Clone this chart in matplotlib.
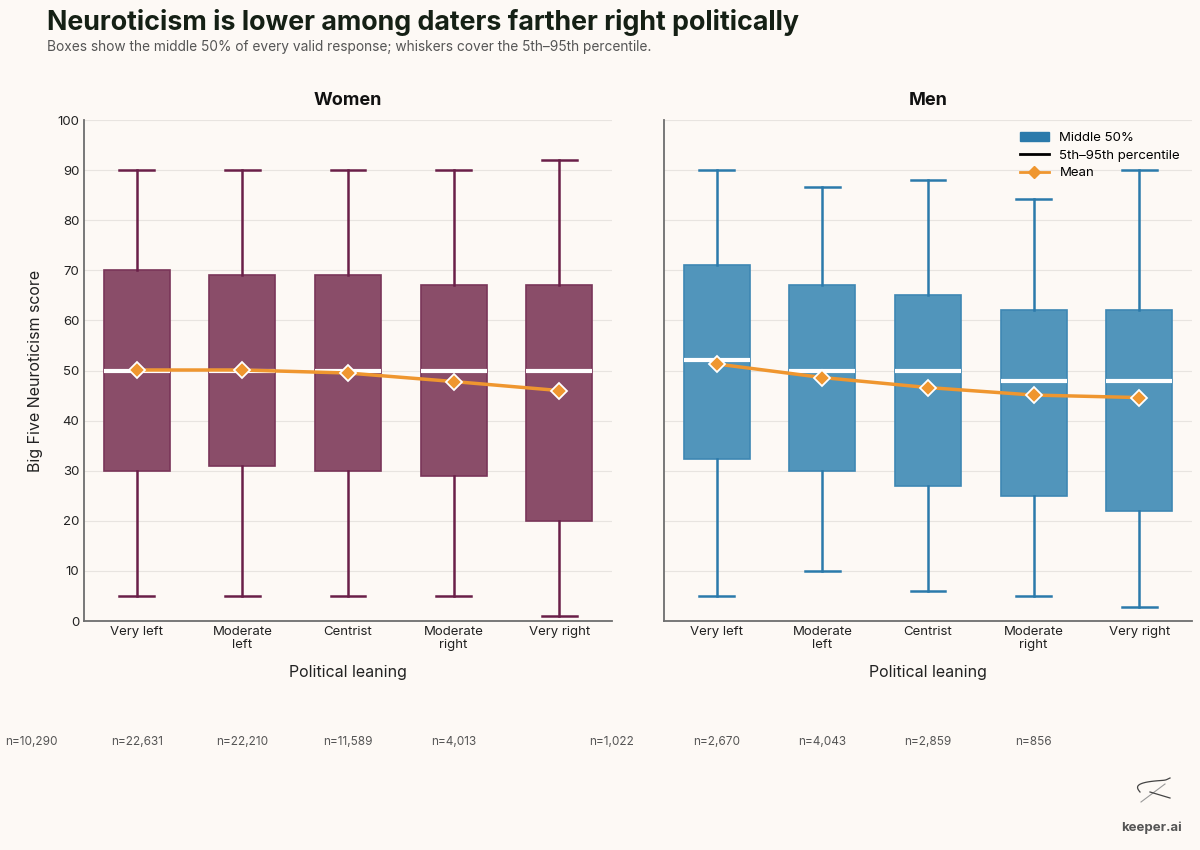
import numpy as np
import matplotlib.pyplot as plt
from matplotlib.patches import Patch
from matplotlib.lines import Line2D
from matplotlib.transforms import blended_transform_factory

plt.rcParams['font.family'] = ['Inter', 'DejaVu Sans']

# Dados
categorias = ["Very left", "Moderate\nleft", "Centrist", "Moderate\nright", "Very right"]

w_p5 = [5, 5, 5, 5, 1]
w_q1 = [30, 31, 30, 29, 20]
w_med = [50, 50, 50, 50, 50]
w_q3 = [70, 69, 69, 67, 67]
w_p95 = [90, 90, 90, 90, 92]
w_mean = [50.1, 50.1, 49.5, 47.8, 46.0]
w_n = ["n=10,290", "n=22,631", "n=22,210", "n=11,589", "n=4,013"]

m_p5 = [5, 10, 6, 5, 2.7]
m_q1 = [32.3, 30, 27, 25, 22]
m_med = [52, 50, 50, 48, 48]
m_q3 = [71, 67, 65, 62, 62]
m_p95 = [90, 86.7, 88, 84.3, 90]
m_mean = [51.3, 48.6, 46.6, 45.1, 44.6]
m_n = ["n=1,022", "n=2,670", "n=4,043", "n=2,859", "n=856"]

bg = '#fdf9f5'
laranja = '#ef962f'

fig = plt.figure(figsize=(12, 8.5), dpi=100, facecolor=bg)
ax1 = fig.add_axes([0.07, 0.2694, 0.44, 0.5894])
ax2 = fig.add_axes([0.5533, 0.2694, 0.44, 0.5894], sharey=ax1)


def desenhar(ax, p5, q1, med, q3, p95, media, ns, face, borda, caixa, titulo):
    ax.set_facecolor(bg)
    stats = []
    for i in range(len(categorias)):
        stats.append(dict(whislo=p5[i], q1=q1[i], med=med[i], q3=q3[i],
                          whishi=p95[i], fliers=[]))
    pos = np.arange(len(categorias))
    ax.bxp(stats, positions=pos, widths=0.625, capwidths=0.33,
           patch_artist=True, showfliers=False,
           boxprops=dict(facecolor=face, edgecolor=caixa, linewidth=1.2),
           whiskerprops=dict(color=borda, linewidth=1.8),
           capprops=dict(color=borda, linewidth=1.8),
           medianprops=dict(color='white', linewidth=3))
    ax.plot(pos, media, color=laranja, lw=2.5, marker='D', ms=8,
            mfc=laranja, mec='white', mew=1.3, zorder=5)
    ax.set_xlim(-0.5, 4.5)
    ax.set_ylim(0, 100)
    ax.set_yticks(range(0, 101, 10))
    ax.set_xticks(pos)
    ax.set_xticklabels(categorias, fontsize=9.5, color='#222222', linespacing=1.1)
    ax.tick_params(axis='both', length=0, labelsize=9.5, colors='#222222')
    ax.grid(axis='y', color='#e8e4e0', lw=0.8)
    ax.set_axisbelow(True)
    for s in ['top', 'right']:
        ax.spines[s].set_visible(False)
    for s in ['left', 'bottom']:
        ax.spines[s].set_color('#6e6e6e')
        ax.spines[s].set_linewidth(1.3)
    ax.set_title(titulo, fontsize=13, fontweight='bold', color='#111111', pad=11)
    ax.set_xlabel("Political leaning", fontsize=11.5, color='#222222', labelpad=10)
    # rotulos n (deslocados como no original)
    tr = blended_transform_factory(ax.transData, ax.transAxes)
    for i, t in enumerate(ns):
        ax.text(i - 1, -0.2415, t, transform=tr, ha='center', va='center',
                fontsize=8.5, color='#555555', clip_on=False)


desenhar(ax1, w_p5, w_q1, w_med, w_q3, w_p95, w_mean, w_n,
         '#8a4d69', '#6a1f48', '#7a3559', "Women")
desenhar(ax2, m_p5, m_q1, m_med, m_q3, m_p95, m_mean, m_n,
         '#5195bb', '#2b7aab', '#3e87b3', "Men")
ax1.set_ylabel("Big Five Neuroticism score", fontsize=11.5, color='#222222', labelpad=10)
plt.setp(ax2.get_yticklabels(), visible=False)

handles = [Patch(facecolor='#2b7aab', edgecolor='#2b7aab', label='Middle 50%'),
           Line2D([], [], color='black', lw=2, label='5th\u201395th percentile'),
           Line2D([], [], color=laranja, lw=2, marker='D', ms=6, mfc=laranja,
                  mec=laranja, label='Mean')]
ax2.legend(handles=handles, loc='upper right', frameon=False, fontsize=9.5,
           handlelength=2.2, labelspacing=0.4, bbox_to_anchor=(1.0, 1.0))

fig.text(0.039, 1 - 22 / 850, "Neuroticism is lower among daters farther right politically",
         fontsize=19.3, fontweight='bold', color='#152015', va='center')
fig.text(0.039, 1 - 47 / 850, "Boxes show the middle 50% of every valid response; whiskers cover the 5th\u201395th percentile.",
         fontsize=9.9, color='#555555', va='center')

# logo
t = np.linspace(0, 1, 80)
lx = 1170 - 30 * t + 10 * np.sin(2 * np.pi * t) * t
ly = 778 + 14 * t - 8 * np.sin(np.pi * t) * t
fig.add_artist(Line2D(lx / 1200, 1 - ly / 850, color='#444444', lw=0.9,
                      transform=fig.transFigure))
fig.add_artist(Line2D([1141 / 1200, 1165 / 1200], [1 - 802 / 850, 1 - 784 / 850],
                      color='#999999', lw=0.8, transform=fig.transFigure))
fig.add_artist(Line2D([1150 / 1200, 1170 / 1200], [1 - 792 / 850, 1 - 798 / 850],
                      color='#444444', lw=0.9, transform=fig.transFigure))
fig.text(0.985, 0.026, "keeper.ai", fontsize=9.5, fontweight='bold', color='#555555',
         ha='right', va='center')

fig.savefig('out.png', dpi=100, facecolor=bg)
